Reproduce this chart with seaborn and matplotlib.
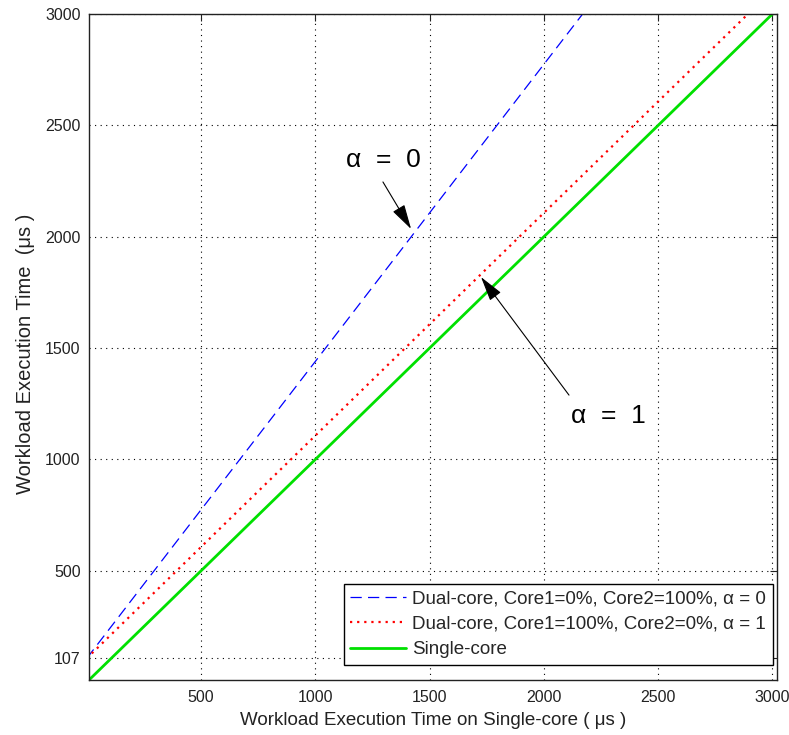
import matplotlib
matplotlib.use("Agg")
import matplotlib.pyplot as plt
import seaborn as sns
import pandas as pd

# Data
x_vals = [0, 500, 1000, 1500, 2000, 2500, 3000]
dual_alpha0 = [107, 774, 1440, 2107, 2774, 3440, 4107]
dual_alpha1 = [107, 607, 1107, 1607, 2107, 2607, 3107]
single_core = [0, 500, 1000, 1500, 2000, 2500, 3000]

x_ticks = [500, 1000, 1500, 2000, 2500, 3000]
y_ticks = [107, 500, 1000, 1500, 2000, 2500, 3000]

labels = ["Dual-core, Core1=0%, Core2=100%, α = 0",
          "Dual-core, Core1=100%, Core2=0%, α = 1",
          "Single-core"]

sns.set_theme(style="white")
plt.rcParams['font.family'] = ['Liberation Sans', 'DejaVu Sans']

fig = plt.figure(figsize=(7.89, 7.35), dpi=100)
ax = fig.add_axes([89/789, 1-680/735, (777-89)/789, (680-14)/735])

df = pd.DataFrame({"x": x_vals, "a0": dual_alpha0, "a1": dual_alpha1, "s": single_core})

sns.lineplot(data=df, x="x", y="a0", ax=ax, color=(0, 0, 1), linestyle=(0, (9, 5)),
             linewidth=0.9, label=labels[0])
sns.lineplot(data=df, x="x", y="a1", ax=ax, color=(1, 0, 0), linestyle=(0, (1, 2.2)),
             linewidth=1.6, label=labels[1])
sns.lineplot(data=df, x="x", y="s", ax=ax, color=(0, 0.88, 0), linestyle='-',
             linewidth=2.0, label=labels[2])

ax.set_xlim(10, 3020)
ax.set_ylim(10, 3000)
ax.set_xticks(x_ticks)
ax.set_yticks(y_ticks)
ax.set_xticklabels([str(t) for t in x_ticks])
ax.set_yticklabels([str(t) for t in y_ticks])

ax.grid(True, linestyle=(0, (1, 4)), color='black', linewidth=0.8)
ax.tick_params(direction='in', length=5, width=0.8, top=True, right=True,
               labelsize=11.5, colors='#222222', pad=6)
ax.tick_params(axis='x', pad=7)
for sp in ax.spines.values():
    sp.set_color('#222222')
    sp.set_linewidth(1.0)

ax.set_xlabel("Workload Execution Time on Single-core ( μs )", fontsize=13.5, color='#222222', labelpad=5)
ax.set_ylabel("Workload Execution Time  (μs )", fontsize=14.5, color='#222222', labelpad=4)
ax.yaxis.set_label_coords(-0.078, 0.49)

arrow_kw = dict(arrowstyle='-|>,head_length=1.1,head_width=0.3', color='black', lw=0.8,
                mutation_scale=14, shrinkA=0, shrinkB=0)
ax.text(1296, 2344, "α  =  0", fontsize=19, ha='center', va='center', color='black')
ax.annotate("", xy=(1419, 2035), xytext=(1296, 2246), arrowprops=arrow_kw)
ax.text(2281, 1195, "α  =  1", fontsize=19, ha='center', va='center', color='black')
ax.annotate("", xy=(1725, 1819), xytext=(2110, 1289), arrowprops=arrow_kw)

leg = ax.legend(loc='lower right', bbox_to_anchor=(0.9935, 0.0225), fontsize=13.5,
                frameon=True, fancybox=False, edgecolor='black', framealpha=1,
                handlelength=3.0, borderpad=0.35, labelspacing=0.45, handletextpad=0.3,
                borderaxespad=0)
leg.get_frame().set_linewidth(1.0)

fig.savefig("out.png", dpi=100)
